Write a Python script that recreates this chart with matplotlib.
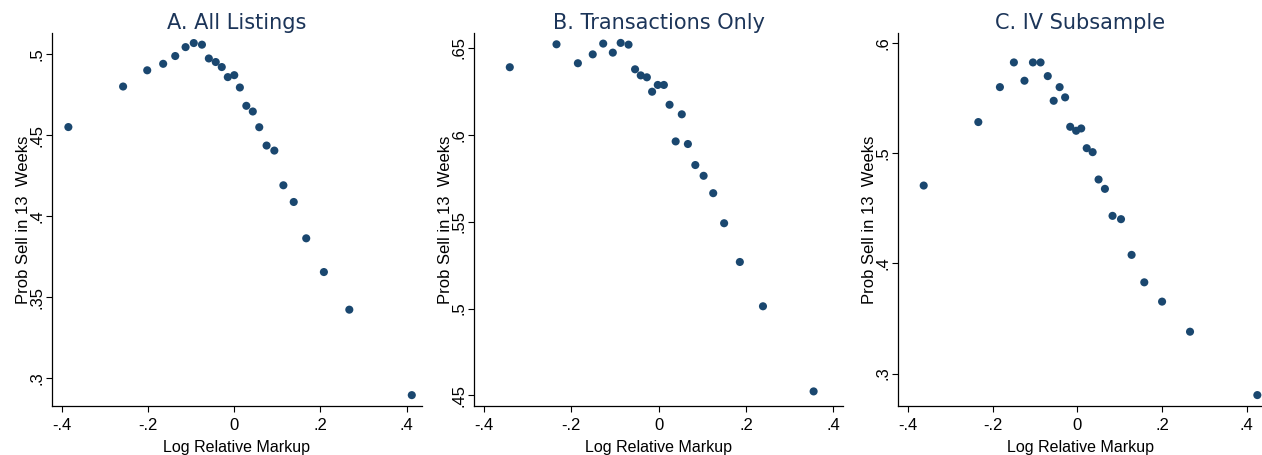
import numpy as np
import matplotlib; matplotlib.use("Agg")
import matplotlib.pyplot as plt

plt.rcParams["font.family"] = ["Liberation Sans", "DejaVu Sans"]

# panel A: all listings
a_x = [-0.385, -0.258, -0.202, -0.165, -0.137, -0.113, -0.094, -0.075, -0.059, -0.043, -0.029, -0.015, 0.000,
       0.013, 0.028, 0.043, 0.058, 0.075, 0.093, 0.114, 0.138, 0.167, 0.208, 0.267, 0.412]
a_y = [0.455, 0.480, 0.490, 0.494, 0.4988, 0.5043, 0.5068, 0.5058, 0.4973, 0.4951, 0.492, 0.4858, 0.487,
       0.4794, 0.4681, 0.4646, 0.4549, 0.4436, 0.4405, 0.4191, 0.4088, 0.3864, 0.3656, 0.3424, 0.2897]
# panel B: transactions only
b_x = [-0.341, -0.234, -0.185, -0.151, -0.127, -0.105, -0.087, -0.069, -0.054, -0.041, -0.027, -0.015, -0.002,
       0.012, 0.025, 0.053, 0.039, 0.067, 0.084, 0.103, 0.125, 0.150, 0.186, 0.239, 0.355]
b_y = [0.6389, 0.6521, 0.6412, 0.6463, 0.6525, 0.6473, 0.6529, 0.6519, 0.6377, 0.6342, 0.6331, 0.6248, 0.6287,
       0.6287, 0.6173, 0.6118, 0.5962, 0.5947, 0.5826, 0.5764, 0.5664, 0.5491, 0.5268, 0.5013, 0.4523]
# panel C: IV subsample
c_x = [-0.363, -0.234, -0.183, -0.150, -0.125, -0.105, -0.087, -0.070, -0.056, -0.042, -0.029, -0.017, -0.003,
       0.009, 0.022, 0.036, 0.050, 0.065, 0.083, 0.103, 0.128, 0.158, 0.200, 0.266, 0.425]
c_y = [0.4706, 0.5282, 0.5599, 0.5823, 0.5657, 0.5823, 0.5823, 0.5699, 0.5475, 0.5599, 0.5506, 0.5239, 0.5203,
       0.5224, 0.5045, 0.5009, 0.4761, 0.4676, 0.4431, 0.4401, 0.4077, 0.3828, 0.3653, 0.3380, 0.2805]

titles = ["A. All Listings", "B. Transactions Only", "C. IV Subsample"]
x_ticks = [-0.4, -0.2, 0, 0.2, 0.4]
x_labels = ["-.4", "-.2", "0", ".2", ".4"]
yticks = [[0.3, 0.35, 0.4, 0.45, 0.5], [0.45, 0.5, 0.55, 0.6, 0.65], [0.3, 0.4, 0.5, 0.6]]
ylabels = [[".3", ".35", ".4", ".45", ".5"], [".45", ".5", ".55", ".6", ".65"], [".3", ".4", ".5", ".6"]]
ylims = [(0.283, 0.513), (0.4439, 0.6586), (0.2706, 0.609)]
xlims = [(-0.423, 0.435), (-0.4223, 0.423), (-0.423, 0.436)]

W, H = 1262, 455
# axes boxes in pixels: left, right
boxes = [(52, 421.7), (474.3, 843.3), (898.3, 1262)]
top, bottom = 33, 406

NAVY = "#1a476f"
fig = plt.figure(figsize=(W / 100, H / 100), dpi=100)
for i, (xs, ys) in enumerate([(a_x, a_y), (b_x, b_y), (c_x, c_y)]):
    l, r = boxes[i]
    ax = fig.add_axes([l / W, (H - bottom) / H, (r - l) / W, (bottom - top) / H])
    ax.scatter(xs, ys, s=34, color=NAVY, edgecolors="none", zorder=3, clip_on=False)
    ax.set_xlim(*xlims[i]); ax.set_ylim(*ylims[i])
    ax.set_xticks(x_ticks); ax.set_xticklabels(x_labels, fontsize=12)
    ax.set_yticks(yticks[i]); ax.set_yticklabels(ylabels[i], fontsize=12, rotation=90, va="center")
    ax.spines["top"].set_visible(False); ax.spines["right"].set_visible(False)
    for s in ("left", "bottom"):
        ax.spines[s].set_linewidth(0.9)
    ax.tick_params(length=4.5, width=0.8)
    ax.tick_params(axis="x", pad=4)
    ax.tick_params(axis="y", pad=1)
    ax.set_xlabel("Log Relative Markup", fontsize=11.5, labelpad=5)
    ax.set_ylabel("Prob Sell in 13  Weeks", fontsize=12, labelpad=-1)
    ax.set_title(titles[i], fontsize=15, color="#1c3559", pad=2, family="DejaVu Sans")

fig.savefig("out.png", dpi=100)
